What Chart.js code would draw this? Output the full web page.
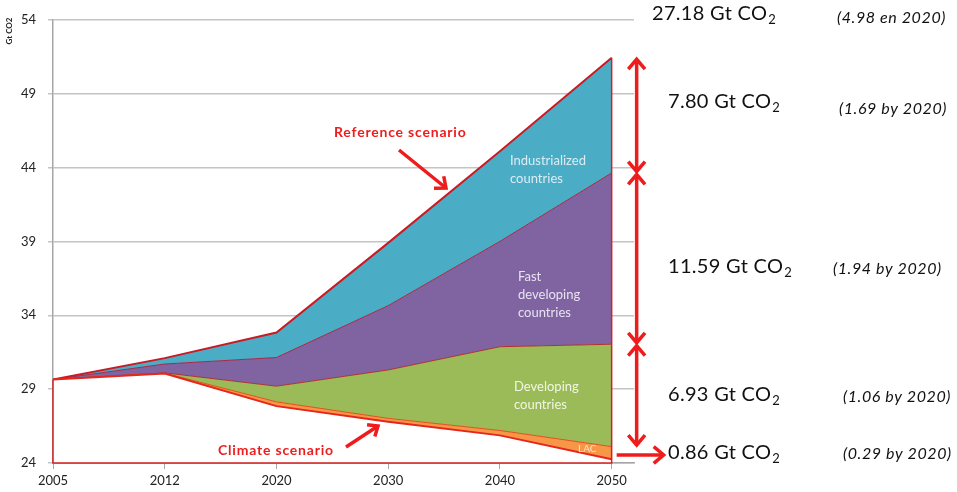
<!DOCTYPE html>
<html>
<head>
<meta charset="utf-8">
<script src="https://cdn.jsdelivr.net/npm/chart.js@4.4.1/dist/chart.umd.min.js"></script>
<style>
  html, body { margin: 0; padding: 0; background: #fff; }
  #wrap { width: 957px; height: 492px; }
</style>
</head>
<body>
<div id="wrap"><canvas id="co2Chart" width="957" height="492"></canvas></div>
<script>
// years on the x axis (evenly spaced, as in the original)
const years = ['2005', '2012', '2020', '2030', '2040', '2050'];

// climate scenario line (bottom of the stack), Gt CO2
const climateScenario = [29.65, 30.05, 27.85, 26.80, 25.87, 24.25];
// reductions stacked on top of the climate scenario
const lac            = [0, 0.03, 0.29, 0.22, 0.33, 0.86];
const developing     = [0, 0.02, 1.06, 3.28, 5.67, 6.93];
const fastDeveloping = [0, 0.60, 1.94, 4.35, 7.13, 11.59];
const industrialized = [0, 0.40, 1.69, 4.25, 6.10, 7.80];

const yTicks = [24, 29, 34, 39, 44, 49, 54];

// right-hand annotations (total first, then top to bottom)
const gapLabels = ['27.18', '7.80', '11.59', '6.93', '0.86'];
const gap2020   = ['(4.98 en 2020)', '(1.69 by 2020)', '(1.94 by 2020)', '(1.06 by 2020)', '(0.29 by 2020)'];

const FONT = 'Lato, "Open Sans", sans-serif';
const RED = '#ee1c1c';

const toXY = arr => arr.map((v, i) => ({ x: i, y: v }));

function head(ctx, x, y, ang, size) {
    ctx.beginPath();
    ctx.moveTo(x - size * Math.cos(ang - 0.7), y - size * Math.sin(ang - 0.7));
    ctx.lineTo(x, y);
    ctx.lineTo(x - size * Math.cos(ang + 0.7), y - size * Math.sin(ang + 0.7));
    ctx.stroke();
}
function arrow(ctx, x1, y1, x2, y2, both, size) {
    const ang = Math.atan2(y2 - y1, x2 - x1);
    ctx.beginPath();
    ctx.moveTo(x1, y1);
    ctx.lineTo(x2, y2);
    ctx.stroke();
    head(ctx, x2, y2, ang, size);
    if (both) head(ctx, x1, y1, ang + Math.PI, size);
}
function co2Text(ctx, num, x, y) {
    ctx.font = '20px ' + FONT;
    ctx.textAlign = 'left';
    ctx.textBaseline = 'middle';
    ctx.letterSpacing = '0.3px';
    const s = num + ' Gt CO';
    ctx.fillText(s, x, y);
    const w = ctx.measureText(s).width;
    ctx.font = '13px ' + FONT;
    ctx.fillText('2', x + w + 1, y + 6);
    ctx.letterSpacing = '0px';
}

const annotations = {
    id: 'annotations',
    afterDatasetsDraw(chart) {
        const { ctx, scales: { x, y } } = chart;
        const last = years.length - 1;
        const lacTop = climateScenario[last] + lac[last];
        const devTop = lacTop + developing[last];
        const fastTop = devTop + fastDeveloping[last];
        const top = fastTop + industrialized[last];

        ctx.save();
        // outline of the stacked block
        ctx.strokeStyle = '#d42020';
        ctx.lineWidth = 1.5;
        ctx.beginPath();
        ctx.moveTo(x.getPixelForValue(0), y.getPixelForValue(climateScenario[0]));
        ctx.lineTo(x.getPixelForValue(0), y.getPixelForValue(24));
        ctx.lineTo(x.getPixelForValue(last), y.getPixelForValue(24));
        ctx.lineTo(x.getPixelForValue(last), y.getPixelForValue(top));
        ctx.stroke();

        // labels inside the areas
        ctx.textAlign = 'left';
        ctx.textBaseline = 'middle';
        ctx.font = '13px ' + FONT;
        ctx.fillStyle = '#d9edf3';
        ctx.fillText('Industrialized', 510, 161);
        ctx.fillText('countries', 510, 179);
        ctx.fillStyle = '#e9e2f1';
        ctx.fillText('Fast', 518, 277);
        ctx.fillText('developing', 518, 295);
        ctx.fillText('countries', 518, 313);
        ctx.fillStyle = '#f1f6e4';
        ctx.fillText('Developing', 514, 387);
        ctx.fillText('countries', 514, 405);
        ctx.font = '10px ' + FONT;
        ctx.fillStyle = '#fde4cf';
        ctx.fillText('LAC', 578, 449);

        // scenario callouts
        ctx.fillStyle = RED;
        ctx.strokeStyle = RED;
        ctx.lineWidth = 3.5;
        ctx.font = 'bold 14px ' + FONT;
        ctx.letterSpacing = '0.8px';
        ctx.fillText('Reference scenario', 334, 132);
        ctx.fillText('Climate scenario', 218, 450);
        ctx.letterSpacing = '0px';
        arrow(ctx, 399, 150, 446, 188, false, 12);
        arrow(ctx, 346, 447, 378, 426, false, 11);

        // gap arrows at 2050
        const ax = x.getPixelForValue(last) + 25;
        const bounds = [top, fastTop, devTop, lacTop];
        for (let i = 0; i < bounds.length - 1; i++) {
            arrow(ctx, ax, y.getPixelForValue(bounds[i]) + 1.5, ax, y.getPixelForValue(bounds[i + 1]) - 1.5, true, 13);
        }
        const lacMid = y.getPixelForValue((climateScenario[last] + lacTop) / 2) + 2;
        arrow(ctx, x.getPixelForValue(last) + 5, lacMid, x.getPixelForValue(last) + 52, lacMid, false, 13);

        // gap texts
        ctx.fillStyle = '#111';
        const rows = [
            { nx: 652, ny: 14, px: 837, py: 18 },
            { nx: 668, ny: 102, px: 839, py: 109 },
            { nx: 668, ny: 267, px: 833, py: 269 },
            { nx: 668, ny: 395, px: 843, py: 397 },
            { nx: 668, ny: 453, px: 843, py: 454 }
        ];
        rows.forEach((r, i) => {
            co2Text(ctx, gapLabels[i], r.nx, r.ny);
            ctx.font = 'italic 16px ' + FONT;
            ctx.textAlign = 'left';
            ctx.letterSpacing = '0.6px';
            ctx.fillText(gap2020[i], r.px, r.py);
            ctx.letterSpacing = '0px';
        });

        // y axis title
        ctx.translate(9, 31);
        ctx.rotate(-Math.PI / 2);
        ctx.font = 'bold 8px ' + FONT;
        ctx.textAlign = 'center';
        ctx.fillStyle = '#222';
        ctx.fillText('Gt CO2', 0, 0);
        ctx.restore();
    }
};

const ctx = document.getElementById('co2Chart').getContext('2d');
const co2Chart = new Chart(ctx, {
    type: 'line',
    data: {
        datasets: [
            {
                label: 'Climate scenario',
                data: toXY(climateScenario),
                borderColor: '#e5261c',
                borderWidth: 2,
                backgroundColor: '#ffffff',
                fill: 'origin'
            },
            {
                label: 'LAC',
                data: toXY(lac),
                borderColor: '#e0501c',
                borderWidth: 1,
                backgroundColor: '#f79646',
                fill: '-1'
            },
            {
                label: 'Developing countries',
                data: toXY(developing),
                borderColor: '#b2302e',
                borderWidth: 1,
                backgroundColor: '#9bbb59',
                fill: '-1'
            },
            {
                label: 'Fast developing countries',
                data: toXY(fastDeveloping),
                borderColor: '#a32a44',
                borderWidth: 1,
                backgroundColor: '#8064a2',
                fill: '-1'
            },
            {
                label: 'Industrialized countries',
                data: toXY(industrialized),
                borderColor: '#cc1a24',
                borderWidth: 2,
                backgroundColor: '#4bacc6',
                fill: '-1'
            }
        ]
    },
    options: {
        responsive: false,
        animation: false,
        layout: { padding: { top: 14, right: 323, bottom: 0, left: 0 } },
        elements: { point: { radius: 0 }, line: { tension: 0 } },
        plugins: { legend: { display: false }, tooltip: { enabled: false } },
        scales: {
            x: {
                type: 'linear',
                min: 0,
                max: 5.2,
                afterBuildTicks: scale => { scale.ticks = years.map((_, i) => ({ value: i })); },
                afterFit: scale => { scale.height = 29; },
                ticks: {
                    callback: v => years[v],
                    font: { family: FONT, size: 13 },
                    color: '#222',
                    padding: 4,
                    maxRotation: 0
                },
                grid: { drawOnChartArea: false, tickLength: 6, color: '#a6a6a6' },
                border: { color: '#a6a6a6', width: 1.5 }
            },
            y: {
                stacked: true,
                min: 24,
                max: 54,
                afterBuildTicks: scale => { scale.ticks = yTicks.map(v => ({ value: v })); },
                afterFit: scale => { scale.width = 53; },
                ticks: {
                    font: { family: FONT, size: 13 },
                    color: '#222',
                    padding: 12
                },
                grid: { color: '#c4c4c4', lineWidth: 1.5, tickLength: 5 },
                border: { color: '#a6a6a6', width: 1.5 }
            }
        }
    },
    plugins: [annotations]
});
</script>
</body>
</html>
